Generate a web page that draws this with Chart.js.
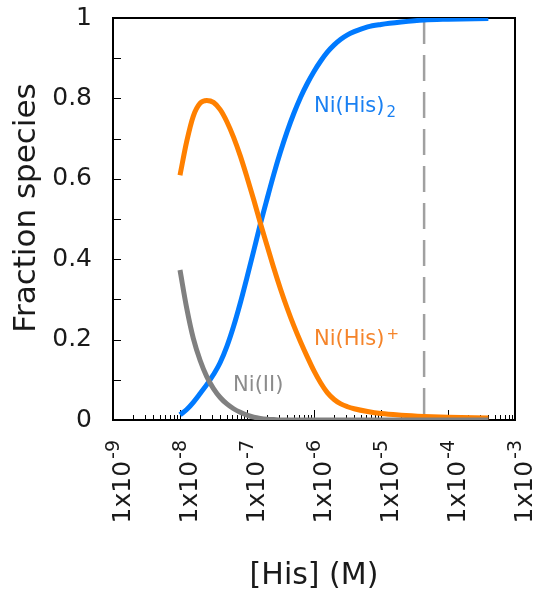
<!DOCTYPE html>
<html>
<head>
<meta charset="utf-8">
<script src="https://cdn.jsdelivr.net/npm/chart.js@4.4.0/dist/chart.umd.min.js"></script>
<style>
  html, body { margin: 0; padding: 0; background: #fff; }
  #wrap { width: 533px; height: 597px; }
</style>
</head>
<body>
<div id="wrap"><canvas id="speciesChart" width="533" height="597"></canvas></div>
<script>
// [His] concentrations (M) at which the fractions were read
var hisConc = [1e-8, 1.26e-8, 1.58e-8, 2e-8, 2.51e-8, 3.16e-8, 3.98e-8, 5.01e-8, 6.31e-8, 7.94e-8,
               1e-7, 1.26e-7, 1.58e-7, 2e-7, 2.51e-7, 3.16e-7, 3.98e-7, 5.01e-7, 6.31e-7, 7.94e-7,
               1e-6, 1.26e-6, 1.58e-6, 2e-6, 2.51e-6, 3.16e-6, 3.98e-6, 6.31e-6,
               1e-5, 2e-5, 4.4e-5, 1e-4, 4e-4];

// fraction of each species
var fracNi = [0.373, 0.278, 0.203, 0.148, 0.108, 0.078, 0.056, 0.040, 0.028, 0.019,
              0.012, 0.007, 0.004, 0.002, 0.001, 0, 0, 0, 0, 0,
              0, 0, 0, 0, 0, 0, 0, 0,
              0, 0, 0, 0, 0];
var fracNiHis = [0.609, 0.693, 0.756, 0.788, 0.795, 0.79, 0.772, 0.742, 0.703, 0.657,
                 0.604, 0.548, 0.49, 0.433, 0.378, 0.326, 0.278, 0.234, 0.194, 0.157,
                 0.122, 0.092, 0.068, 0.051, 0.040, 0.033, 0.028, 0.021,
                 0.016, 0.012, 0.009, 0.007, 0.005];
var fracNiHis2 = [0.013, 0.026, 0.044, 0.066, 0.088, 0.113, 0.143, 0.183, 0.233, 0.291,
                  0.355, 0.421, 0.487, 0.551, 0.611, 0.667, 0.718, 0.763, 0.803, 0.837,
                  0.867, 0.893, 0.915, 0.933, 0.947, 0.958, 0.966, 0.978,
                  0.984, 0.99, 0.995, 0.997, 0.999];

// vertical marker
var markerConc = 4.4e-5;

// x tick labels (1x10^n)
var xTickValues = [1e-9, 1e-8, 1e-7, 1e-6, 1e-5, 1e-4, 1e-3];
var xTickExps = ['-9', '-8', '-7', '-6', '-5', '-4', '-3'];

function toPoints(ys) {
    return hisConc.map(function (c, i) { return { x: c, y: ys[i] }; });
}

var FONT = 'DejaVu Sans, Verdana, sans-serif';

// curve labels, placed in data coordinates
var curveLabels = [
    { text: 'Ni(His)', sub: '2', x: 1e-6, y: 0.766, color: '#1a80f2' },
    { text: 'Ni(His)', sup: '+', x: 1e-6, y: 0.187, color: '#f5842a' },
    { text: 'Ni(II)', x: 6.2e-8, y: 0.072, color: '#8c8c8c' }
];

var framePlugin = {
    id: 'frame',
    beforeDatasetsDraw: function (chart) {
        var ctx = chart.ctx, a = chart.chartArea;
        var xs = chart.scales.x, ys = chart.scales.y;
        ctx.save();
        ctx.strokeStyle = '#000';
        ctx.lineWidth = 1;
        // minor + major ticks on log axis, pointing inward
        for (var e = -9; e <= -3; e++) {
            for (var m = 1; m <= 9; m++) {
                if (e === -3 && m > 1) break;
                var px = Math.round(xs.getPixelForValue(m * Math.pow(10, e))) + 0.5;
                var len = m === 1 ? 10 : 5;
                ctx.beginPath();
                ctx.moveTo(px, a.bottom);
                ctx.lineTo(px, a.bottom - len);
                ctx.stroke();
            }
        }
        for (var i = 1; i < 10; i++) {
            var py = Math.round(ys.getPixelForValue(i / 10)) + 0.5;
            ctx.beginPath();
            ctx.moveTo(a.left, py);
            ctx.lineTo(a.left + 8, py);
            ctx.stroke();
        }
        ctx.lineWidth = 2;
        ctx.strokeRect(a.left, a.top, a.right - a.left, a.bottom - a.top);
        ctx.restore();
    },
    afterDraw: function (chart) {
        var ctx = chart.ctx;
        var xs = chart.scales.x, ys = chart.scales.y;
        ctx.save();
        // rotated x tick labels with superscript exponent
        ctx.fillStyle = '#1a1a1a';
        ctx.textAlign = 'right';
        ctx.textBaseline = 'alphabetic';
        xTickValues.forEach(function (v, i) {
            var px = xs.getPixelForValue(v);
            ctx.save();
            ctx.translate(px, 440);
            ctx.rotate(-Math.PI / 2);
            ctx.font = '19px ' + FONT;
            var w = ctx.measureText(xTickExps[i]).width;
            ctx.fillText(xTickExps[i], 0, 6);
            ctx.font = '25px ' + FONT;
            ctx.fillText('1x10', -w - 2, 17);
            ctx.restore();
        });

        // y axis title
        ctx.save();
        ctx.translate(35, 208);
        ctx.rotate(-Math.PI / 2);
        ctx.textAlign = 'center';
        ctx.font = '31px ' + FONT;
        ctx.fillText('Fraction species', 0, 0);
        ctx.restore();

        // curve labels
        ctx.textAlign = 'left';
        curveLabels.forEach(function (l) {
            var px = xs.getPixelForValue(l.x), py = ys.getPixelForValue(l.y);
            ctx.fillStyle = l.color;
            ctx.font = '21px ' + FONT;
            ctx.fillText(l.text, px, py);
            var w = ctx.measureText(l.text).width;
            ctx.font = '15px ' + FONT;
            if (l.sub) ctx.fillText(l.sub, px + w + 2, py + 5);
            if (l.sup) ctx.fillText(l.sup, px + w + 2, py - 6);
        });
        ctx.restore();
    }
};

var ctxSpecies = document.getElementById('speciesChart').getContext('2d');
new Chart(ctxSpecies, {
    type: 'line',
    data: {
        datasets: [
            {
                label: 'Ni(II)',
                data: toPoints(fracNi),
                borderColor: '#808080',
                borderWidth: 5,
                pointRadius: 0,
                cubicInterpolationMode: 'monotone',
                order: 0
            },
            {
                label: 'Ni(His)+',
                data: toPoints(fracNiHis),
                borderColor: '#ff8000',
                borderWidth: 5,
                pointRadius: 0,
                cubicInterpolationMode: 'monotone',
                order: 1
            },
            {
                label: 'Ni(His)2',
                data: toPoints(fracNiHis2),
                borderColor: '#007aff',
                borderWidth: 5,
                pointRadius: 0,
                cubicInterpolationMode: 'monotone',
                order: 2
            },
            {
                label: 'marker',
                data: [{ x: markerConc, y: 1 }, { x: markerConc, y: 0 }],
                borderColor: '#a0a0a0',
                borderWidth: 2.5,
                borderDash: [26, 11],
                pointRadius: 0,
                order: 3
            }
        ]
    },
    options: {
        responsive: false,
        animation: false,
        layout: { padding: { top: 18, right: 18, left: 0, bottom: 0 } },
        plugins: {
            legend: { display: false },
            tooltip: { enabled: false }
        },
        scales: {
            x: {
                type: 'logarithmic',
                min: 1e-9,
                max: 1e-3,
                grid: { display: false, drawTicks: false },
                border: { display: false },
                ticks: { display: false },
                title: {
                    display: true,
                    text: '[His] (M)',
                    color: '#1a1a1a',
                    font: { family: FONT, size: 30 },
                    padding: { top: 0, bottom: 3 }
                },
                afterFit: function (s) {
                    s.height = 177;
                    s.paddingLeft = 0;
                    s.paddingRight = 0;
                }
            },
            y: {
                min: 0,
                max: 1,
                grid: { display: false, drawTicks: false },
                border: { display: false },
                ticks: {
                    stepSize: 0.1,
                    padding: 21,
                    color: '#1a1a1a',
                    font: { family: FONT, size: 25 },
                    callback: function (v) {
                        return Math.round(v * 10) % 2 === 0 ? String(+v.toFixed(1)) : '';
                    }
                },
                afterFit: function (s) {
                    s.width = 113;
                    s.paddingTop = 0;
                    s.paddingBottom = 0;
                }
            }
        }
    },
    plugins: [framePlugin]
});
</script>
</body>
</html>
